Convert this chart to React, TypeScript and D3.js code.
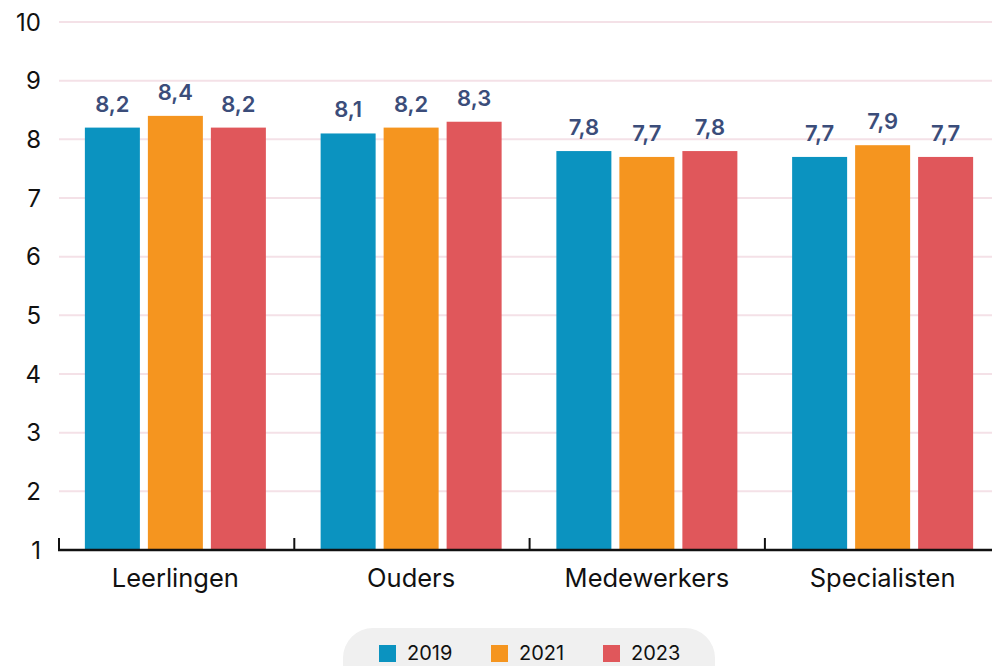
import React from "react";
import * as d3 from "d3";

const categories = ["Leerlingen", "Ouders", "Medewerkers", "Specialisten"];
const years = ["2019", "2021", "2023"];
const values2019 = [8.2, 8.1, 7.8, 7.7];
const values2021 = [8.4, 8.2, 7.7, 7.9];
const values2023 = [8.2, 8.3, 7.8, 7.7];
const yTicks = [1, 2, 3, 4, 5, 6, 7, 8, 9, 10];
const colors = ["#0b93c0", "#f5951f", "#e0575b"];

const W = 992;
const H = 666;

export default function App() {
  const series = [values2019, values2021, values2023];
  const x = d3.scaleBand<string>().domain(categories).range([59, 1002]).paddingInner(0).paddingOuter(0);
  const y = d3.scaleLinear().domain([1, 10]).range([550, 22]);
  const barW = 55;
  const gap = 8;
  const groupW = barW * 3 + gap * 2;
  const fmt = (v: number) => v.toFixed(1).replace(".", ",");
  const legendX = [379, 491, 603];
  return (
    <svg width={W} height={H} style={{ position: "absolute", left: 0, top: 0, background: "#fff" }}>
      {yTicks.map((t) => (
        <g key={t}>
          {t > 1 && <line x1={59} x2={W} y1={y(t)} y2={y(t)} stroke="#f4e1e7" strokeWidth={2} />}
          <text x={41} y={y(t)} dy="0.36em" textAnchor="end" fontFamily="Inter, sans-serif" fontSize={24} fill="#111">
            {t}
          </text>
        </g>
      ))}
      {categories.map((c, ci) => {
        const x0 = (x(c) as number) + (x.bandwidth() - groupW) / 2 - 1.5;
        return (
          <g key={c}>
            {series.map((s, si) => {
              const bx = x0 + si * (barW + gap);
              return (
                <g key={si}>
                  <rect x={bx} y={y(s[ci])} width={barW} height={y(1) - y(s[ci])} fill={colors[si]} />
                  <text
                    x={bx + barW / 2}
                    y={y(s[ci]) - 16}
                    textAnchor="middle"
                    fontFamily="Inter, sans-serif"
                    fontWeight={600}
                    fontSize={22}
                    fill="#3b4d7a"
                  >
                    {fmt(s[ci])}
                  </text>
                </g>
              );
            })}
            <text
              x={(x(c) as number) + x.bandwidth() / 2 - 1.5}
              y={578}
              dy="0.36em"
              textAnchor="middle"
              fontFamily="Inter, sans-serif"
              fontSize={25.5}
              fill="#111"
            >
              {c}
            </text>
          </g>
        );
      })}
      {categories.map((c, i) => (
        <line key={c} x1={59 + i * 235.3} x2={59 + i * 235.3} y1={538} y2={550} stroke="#111" strokeWidth={2} />
      ))}
      <line x1={58} x2={W} y1={550} y2={550} stroke="#111" strokeWidth={2.5} />
      <rect x={343} y={628} width={372} height={70} rx={30} fill="#f0f0f0" />
      {years.map((yr, i) => (
        <g key={yr}>
          <rect x={legendX[i]} y={645} width={17} height={17} fill={colors[i]} />
          <text x={legendX[i] + 28} y={652.5} dy="0.36em" fontFamily="Inter, sans-serif" fontSize={20} fill="#111">
            {yr}
          </text>
        </g>
      ))}
    </svg>
  );
}
